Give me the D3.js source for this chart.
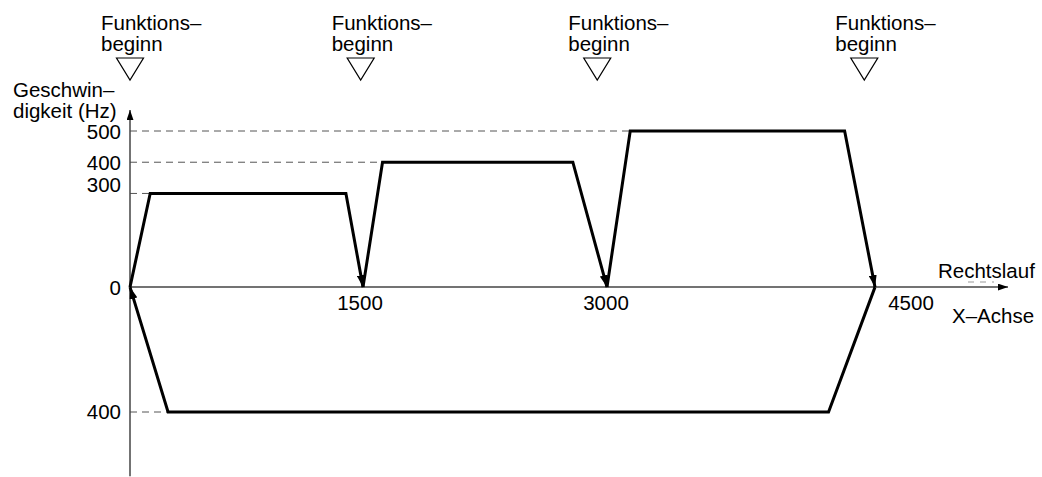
<!DOCTYPE html>
<html>
<head>
  <meta charset="utf-8">
  <title>Geschwindigkeit</title>
  <script src="https://cdnjs.cloudflare.com/ajax/libs/d3/7.8.5/d3.min.js"></script>
  <style>
    body { margin: 0; background: #fff; }
    text { font-family: "Liberation Sans", Arial, sans-serif; font-size: 20.5px; fill: #000; }
  </style>
</head>
<body>
  <script>
    // Vorwärts-Profil (Rechtslauf), x in Impulsen, y in Hz
    var fwdX = [0, 130, 1390, 1500, 1620, 2790, 3000, 3130, 4330, 4500];
    var fwdY = [0, 300, 300, 0, 400, 400, 0, 500, 500, 0];
    // Rückweg
    var backX = [4500, 4240, 245, 0];
    var backY = [0, -400, -400, 0];

    var xTicks = [1500, 3000, 4500];
    var yTicks = [500, 400, 300, 0, -400];
    var yTickLabels = ["500", "400", "300", "0", "400"];
    var dashEnds = [3130, 1620, 130, null, 245]; // wo die gestrichelten Linien enden

    var starts = [0, 1485, 2940, 4440];

    var width = 1042, height = 477;

    var x = d3.scaleLinear().domain([0, 1500, 3000, 4500]).range([130, 363, 607, 875]);
    var y = d3.scaleLinear().domain([-400, 500]).range([412, 131]);

    var svg = d3.select("body").append("svg")
      .attr("width", width)
      .attr("height", height);

    var defs = svg.append("defs");
    defs.append("marker")
      .attr("id", "head")
      .attr("viewBox", "0 0 12 8")
      .attr("refX", 12).attr("refY", 4)
      .attr("markerWidth", 12).attr("markerHeight", 8)
      .attr("markerUnits", "userSpaceOnUse")
      .attr("orient", "auto")
      .append("path").attr("d", "M0,0 L12,4 L0,8 Z").attr("fill", "#000");
    defs.append("marker")
      .attr("id", "axhead")
      .attr("viewBox", "0 0 10 7")
      .attr("refX", 10).attr("refY", 3.5)
      .attr("markerWidth", 10).attr("markerHeight", 7)
      .attr("markerUnits", "userSpaceOnUse")
      .attr("orient", "auto")
      .append("path").attr("d", "M0,0 L10,3.5 L0,7 Z").attr("fill", "#000");

    // gestrichelte Hilfslinien
    svg.selectAll("line.grid")
      .data(yTicks.map(function (v, i) { return { v: v, end: dashEnds[i] }; }).filter(function (d) { return d.end !== null; }))
      .enter().append("line")
      .attr("class", "grid")
      .attr("x1", x(0)).attr("x2", function (d) { return x(d.end); })
      .attr("y1", function (d) { return y(d.v); }).attr("y2", function (d) { return y(d.v); })
      .attr("stroke", "#555").attr("stroke-width", 1)
      .attr("stroke-dasharray", "7,5");

    // Achsen
    svg.append("line")
      .attr("x1", x(0)).attr("x2", x(0))
      .attr("y1", y(-606)).attr("y2", y(567))
      .attr("stroke", "#444").attr("stroke-width", 1.5)
      .attr("marker-end", "url(#axhead)");
    svg.append("line")
      .attr("x1", x(0)).attr("x2", 1008)
      .attr("y1", y(0)).attr("y2", y(0))
      .attr("stroke", "#444").attr("stroke-width", 1.5)
      .attr("marker-end", "url(#axhead)");

    // Profil
    var line = d3.line()
      .x(function (d) { return x(d[0]); })
      .y(function (d) { return y(d[1]); });

    // Segmente, damit jede Abfahrt zur Achse eine Pfeilspitze bekommt
    var fwd = fwdX.map(function (v, i) { return [v, fwdY[i]]; });
    var segs = [];
    var cur = [fwd[0]];
    for (var i = 1; i < fwd.length; i++) {
      cur.push(fwd[i]);
      if (fwdY[i] === 0) { segs.push(cur); cur = [fwd[i]]; }
    }
    segs.push(backX.map(function (v, i) { return [v, backY[i]]; }));

    svg.selectAll("path.prof")
      .data(segs)
      .enter().append("path")
      .attr("class", "prof")
      .attr("d", line)
      .attr("fill", "none")
      .attr("stroke", "#000")
      .attr("stroke-width", 3)
      .attr("stroke-linejoin", "miter")
      .attr("marker-end", "url(#head)");

    // y-Beschriftung
    var yLabelDy = [8, 8, -1, 8, 7];
    svg.selectAll("text.ytick")
      .data(yTicks)
      .enter().append("text")
      .attr("class", "ytick")
      .attr("x", 121)
      .attr("y", function (d, i) { return y(d) + yLabelDy[i]; })
      .attr("text-anchor", "end")
      .text(function (d, i) { return yTickLabels[i]; });

    // x-Beschriftung
    var xLabelDx = [-3, -1, 36];
    svg.selectAll("text.xtick")
      .data(xTicks)
      .enter().append("text")
      .attr("class", "xtick")
      .attr("x", function (d, i) { return x(d) + xLabelDx[i]; })
      .attr("y", 310)
      .attr("text-anchor", "middle")
      .text(function (d) { return d; });

    svg.append("text").attr("x", 13).attr("y", 97).text("Geschwin–");
    svg.append("text").attr("x", 13).attr("y", 118).text("digkeit (Hz)");
    svg.append("text").attr("x", 938).attr("y", 278).text("Rechtslauf");
    svg.append("line")
      .attr("x1", 968).attr("x2", 994).attr("y1", 282).attr("y2", 282)
      .attr("stroke", "#999").attr("stroke-width", 1).attr("stroke-dasharray", "6,6");
    svg.append("text").attr("x", 952).attr("y", 323).text("X–Achse");

    // Funktionsbeginn-Marken
    var g = svg.selectAll("g.start")
      .data(starts)
      .enter().append("g")
      .attr("class", "start")
      .attr("transform", function (d) { return "translate(" + x(d) + ",0)"; });
    g.append("path")
      .attr("d", "M-13.5,58 L13.5,58 L0,80 Z")
      .attr("fill", "#fff").attr("stroke", "#000").attr("stroke-width", 1.2);
    g.append("text").attr("x", -29).attr("y", 30).text("Funktions–");
    g.append("text").attr("x", -29).attr("y", 51).text("beginn");
  </script>
</body>
</html>
